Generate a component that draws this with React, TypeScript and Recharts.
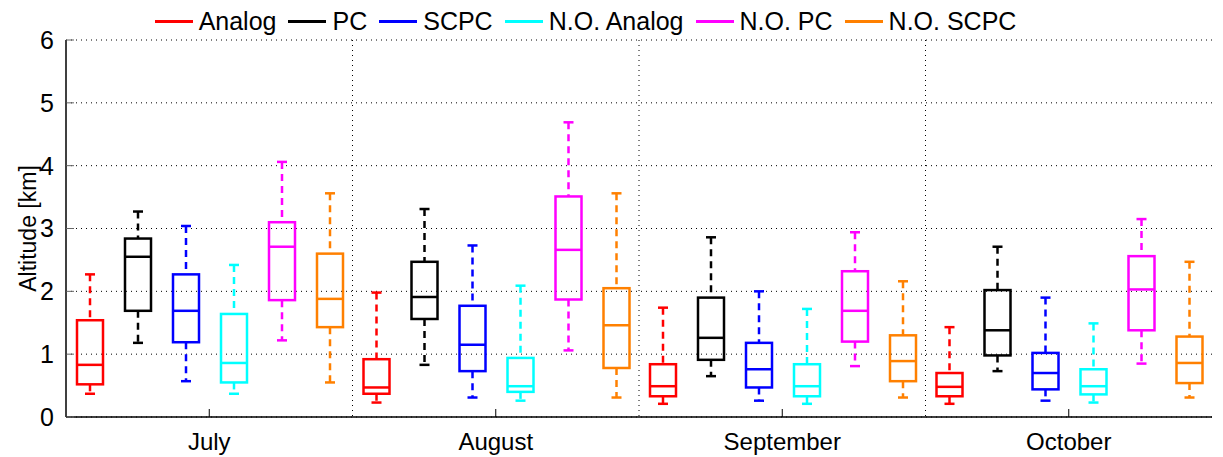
import React from "react";
import { ComposedChart, Bar, XAxis, YAxis, CartesianGrid, Legend } from "recharts";

const months = ["July", "August", "September", "October"];
const seriesNames = ["Analog", "PC", "SCPC", "N.O. Analog", "N.O. PC", "N.O. SCPC"];
const colors = ["#ff0000", "#000000", "#0000ff", "#00ffff", "#ff00ff", "#ff8000"];
// [min, q1, median, q3, max] per month
const analog = [[0.37, 0.52, 0.83, 1.54, 2.27], [0.23, 0.37, 0.47, 0.92, 1.98], [0.21, 0.33, 0.49, 0.84, 1.74], [0.21, 0.33, 0.48, 0.70, 1.43]];
const pc = [[1.18, 1.69, 2.55, 2.84, 3.27], [0.83, 1.56, 1.91, 2.47, 3.31], [0.65, 0.91, 1.26, 1.90, 2.86], [0.73, 0.98, 1.38, 2.02, 2.71]];
const scpc = [[0.57, 1.19, 1.69, 2.27, 3.04], [0.31, 0.73, 1.15, 1.77, 2.73], [0.26, 0.47, 0.76, 1.18, 2.0], [0.26, 0.44, 0.70, 1.02, 1.90]];
const noAnalog = [[0.37, 0.55, 0.86, 1.64, 2.42], [0.26, 0.40, 0.49, 0.94, 2.09], [0.21, 0.33, 0.49, 0.84, 1.72], [0.23, 0.36, 0.49, 0.76, 1.49]];
const noPc = [[1.22, 1.86, 2.71, 3.10, 4.06], [1.06, 1.87, 2.66, 3.51, 4.69], [0.81, 1.20, 1.69, 2.32, 2.94], [0.85, 1.38, 2.03, 2.56, 3.15]];
const noScpc = [[0.55, 1.43, 1.88, 2.60, 3.56], [0.31, 0.78, 1.46, 2.05, 3.56], [0.31, 0.57, 0.89, 1.30, 2.16], [0.31, 0.54, 0.86, 1.28, 2.47]];
const yTicks = [0, 1, 2, 3, 4, 5, 6];

const allSeries = [analog, pc, scpc, noAnalog, noPc, noScpc];
const data = months.map((m, i) => {
  const row: any = { month: m };
  allSeries.forEach((s, k) => {
    row["r" + k] = [s[i][0], s[i][4]];
    row["s" + k] = s[i];
  });
  return row;
});

const FONT = "'Liberation Sans', Arial, sans-serif";

function makeShape(k: number) {
  return (props: any) => {
    const { x, y, width, height, payload } = props;
    const [mn, q1, md, q3, mx] = payload["s" + k];
    const yv = (v: number) => y + (height * (mx - v)) / (mx - mn);
    const cx = x + width / 2;
    const bw = 26;
    const cap = 10;
    const c = colors[k];
    return (
      <g stroke={c} strokeWidth={2.5} fill="none">
        <line x1={cx} x2={cx} y1={yv(mx)} y2={yv(q3)} strokeDasharray="7 5" />
        <line x1={cx} x2={cx} y1={yv(q1)} y2={yv(mn)} strokeDasharray="7 5" />
        <line x1={cx - cap / 2} x2={cx + cap / 2} y1={yv(mx)} y2={yv(mx)} />
        <line x1={cx - cap / 2} x2={cx + cap / 2} y1={yv(mn)} y2={yv(mn)} />
        <rect x={cx - bw / 2} y={yv(q3)} width={bw} height={yv(q1) - yv(q3)} />
        <line x1={cx - bw / 2} x2={cx + bw / 2} y1={yv(md)} y2={yv(md)} />
      </g>
    );
  };
}

const verticalGen = (props: any) => {
  const { offset } = props;
  return months.slice(1).map((m, i) => offset.left + (offset.width * (i + 1)) / months.length);
};

const LegendContent = () => (
  <div style={{ display: "flex", justifyContent: "center", fontFamily: FONT, fontSize: 25, lineHeight: "26px", marginLeft: -40 }}>
    {seriesNames.map((n, k) => (
      <div key={n} style={{ display: "flex", alignItems: "center", marginRight: 12 }}>
        <div style={{ width: 38, height: 3, background: colors[k], marginRight: 6 }} />
        <span>{n}</span>
      </div>
    ))}
  </div>
);

export default function App() {
  return (
    <ComposedChart width={1207} height={449} data={data} margin={{ top: 6, right: 3, left: 18, bottom: 9 }} barCategoryGap={0} barGap={0}>
      <CartesianGrid xAxisId="c" yAxisId="y" stroke="#000" strokeDasharray="1 4" verticalCoordinatesGenerator={verticalGen} />
      <Legend verticalAlign="top" height={26} content={<LegendContent />} wrapperStyle={{ top: 0, left: 0, width: 1207 }} />
      <XAxis dataKey="month" xAxisId="c" tickLine={{ stroke: "#000" }} tickSize={-8} axisLine={{ stroke: "#000", strokeWidth: 1.5 }} tick={{ fill: "#000", fontSize: 24, fontFamily: FONT, dy: 22 }} height={31} />
      <XAxis xAxisId="top" dataKey="month" orientation="top" tickSize={-8} tickLine={{ stroke: "#000" }} tick={false} axisLine={{ stroke: "#000", strokeWidth: 1.5 }} height={0} />
      <YAxis yAxisId="y" domain={[0, 6]} ticks={yTicks} tickSize={-8} axisLine={{ stroke: "#000", strokeWidth: 1.5 }} tick={{ fill: "#000", fontSize: 25, fontFamily: FONT, dx: -18 }} width={40} label={{ value: "Altitude [km]", angle: -90, position: "insideLeft", offset: 2, style: { fontSize: 23, fontFamily: FONT, fill: "#000", textAnchor: "middle" } }} />
      <YAxis yAxisId="y2" orientation="right" domain={[0, 6]} ticks={yTicks} tickSize={-8} tick={false} axisLine={{ stroke: "#000", strokeWidth: 1.5 }} width={0} />
      {seriesNames.map((n, k) => (
        <Bar key={n} dataKey={"r" + k} name={n} xAxisId="c" yAxisId="y" isAnimationActive={false} shape={makeShape(k)} />
      ))}
    </ComposedChart>
  );
}
